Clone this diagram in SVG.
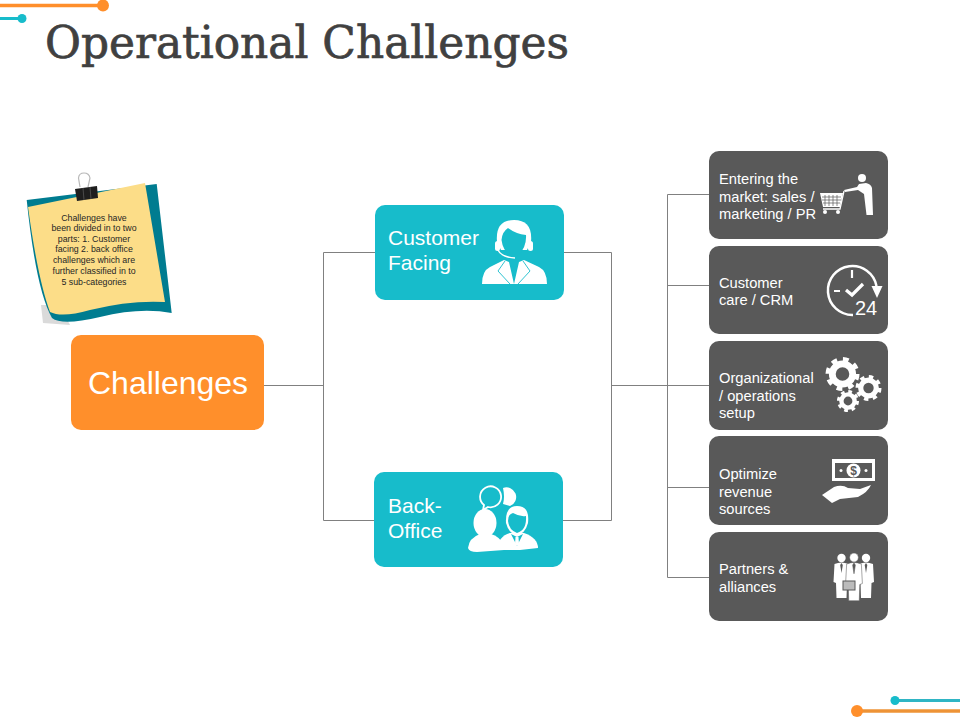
<svg xmlns="http://www.w3.org/2000/svg" xmlns:xlink="http://www.w3.org/1999/xlink" width="960" height="720" viewBox="0 0 960 720">
<style>
text{font-family:"Liberation Sans",Arial,sans-serif}
.conn{fill:none;stroke:#808080;stroke-width:1}
.dark{fill:#595959}.teal{fill:#17BCCB}
.lbl{fill:#fff;font-size:21px}
.sm{fill:#fff;font-size:14.7px}
.note{fill:#262626;font-size:8.8px;text-anchor:middle}
.w{fill:#fff}
.ws{fill:none;stroke:#fff}
</style>
<defs>
<g id="gear"><circle r="0.6" fill="none" stroke="#fff" stroke-width="0.4"/><circle r="0.85" fill="none" stroke="#fff" stroke-width="0.3" stroke-dasharray="0.33 0.3375"/></g>
<g id="man"><circle cy="-18" r="4.200" class="w"/><path class="w" d="M-7-12Q0-15 7-12L8 6 5.500 7 5 22H-5L-5.500 7-8 6Z"/><path d="M0-13-1.300-11 0-3 1.300-11Z" fill="#595959"/></g>
</defs>
<g id="deco">
<path d="M0 5.500H103" stroke="#FF8F2B" stroke-width="3.500" fill="none"/><circle cx="103" cy="5.500" r="6" fill="#FF8F2B"/>
<path d="M0 18.500H22" stroke="#17BCCB" stroke-width="3" fill="none"/><circle cx="22" cy="18.500" r="4.500" fill="#17BCCB"/>
<path d="M895 700.500H960" stroke="#2FB5C4" stroke-width="3" fill="none"/><circle cx="895" cy="700.500" r="4.500" fill="#17BCCB"/>
<path d="M857 711H960" stroke="#EE9336" stroke-width="3.500" fill="none"/><circle cx="857" cy="711" r="6" fill="#FF8F2B"/>
</g>
<text id="title" x="45" y="58" font-size="45" textLength="524" lengthAdjust="spacingAndGlyphs" style="font-family:'DejaVu Serif',serif" fill="#404040" stroke="#404040" stroke-width="0.700">Operational Challenges</text>
<g id="connectors">
<path class="conn" d="M264 385.500H323.500M323.500 252.500V520.500M323.500 252.500H375M323.500 520.500H374M564 252.500H611.500M563 520.500H611.500M611.500 252.500V520.500M611.500 385.500H709M667.500 194.500V577.500M667.500 194.500H709M667.500 285.500H709M667.500 487.500H709M667.500 577.500H709"/>
</g>
<g id="note">
<path d="M41 305 43 323 70 325 60 305Z" fill="#DADADA"/>
<path d="M26.700 200 156.700 184 171.700 313Q140 307 100 317 62 326 52 318 36 290 26.700 200Z" fill="#007C90"/>
<path d="M28 207 145 183 165 302Q130 300 90 310 62 318 50 312 38 280 28 207Z" fill="#FCDD88"/>
<path d="M80 187 78.500 178Q79 173 84 173 89 173 90 178L88 187" fill="none" stroke="#B8B8B8" stroke-width="1.200"/>
<path d="M75 189 97 186 98 198 77 201Z" fill="#1E1E1E"/>
<path d="M83 188 84 200M90 187 91 199" stroke="#555" stroke-width="0.800"/>
<text class="note" x="94" y="221">Challenges have</text>
<text class="note" x="94" y="231">been divided in to two</text>
<text class="note" x="94" y="242">parts: 1. Customer</text>
<text class="note" x="94" y="252">facing 2. back office</text>
<text class="note" x="94" y="263">challenges which are</text>
<text class="note" x="94" y="274">further classified in to</text>
<text class="note" x="94" y="285">5 sub-categories</text>
</g>
<g id="challenges">
<rect x="71" y="335" width="193" height="95" rx="10" fill="#FF8F2B"/>
<text x="88" y="394" font-size="32" fill="#fff">Challenges</text>
</g>
<g id="customer-facing">
<rect x="375" y="205" width="189" height="95" rx="10" class="teal"/>
<text class="lbl" x="388" y="245">Customer</text>
<text class="lbl" x="388" y="270">Facing</text>
<path class="w" d="M497 242Q495 220 514 220 533 220 531 242L527 250H501Z"/>
<path class="teal" d="M501.500 240Q502 232 508 228 516 234 526 235 527 250 514 259 503 252 501.500 240Z"/>
<path class="ws" stroke-width="1.500" d="M498 250Q501 257 515 258"/>
<rect x="495" y="241" width="5" height="10" rx="2.500" class="w"/><rect x="528" y="241" width="5" height="10" rx="2.500" class="w"/>
<path class="w" d="M482 284Q482 271 490 267L504 260 509 262 514 284 519 262 524 260 539 267Q547 271 547 284Z"/>
<path d="M505 261 498 271 510 284M523 261 530 271 518 284" fill="none" stroke="#17BCCB" stroke-width="0.900"/>
</g>
<g id="back-office">
<rect x="374" y="472" width="189" height="95" rx="10" class="teal"/>
<text class="lbl" x="388" y="513">Back-</text>
<text class="lbl" x="388" y="538">Office</text>
<path class="w" d="M503 488A9.500 9.500 0 1 1 510 506L503 504Q505 497 503 488Z"/>
<path stroke="#fff" stroke-width="1.800" d="M488 507A10.500 10.500 0 1 0 484 505L483 510Z" fill="#17BCCB"/>
<ellipse cx="485" cy="523" rx="11.500" ry="14" class="w"/>
<path class="w" d="M468 548Q469 538 480 534H491Q499 536 505 546L504 550 477 552Q469 552 468 548Z"/>
<path class="w" d="M498 550Q497 537 510 533L524 533Q538 538 538 548L520 550Z"/>
<path class="w" d="M506 523Q505 506 517 506 530 506 528 523 525 534 517 535 509 534 506 523Z"/>
<path class="teal" d="M508 521Q508 514 513 513 520 517 526 516 527 530 517 533 509 530 508 521Z"/>
<path class="teal" d="M511 534 517 546 523 534 517 537Z"/><path class="w" d="M515.500 537H518.500L519 544 517 546 515 544Z"/>
</g>
<g id="market">
<rect x="709" y="151" width="179" height="88" rx="10" class="dark"/>
<text class="sm" x="719" y="184">Entering the</text>
<text class="sm" x="719" y="202">market: sales /</text>
<text class="sm" x="719" y="219">marketing / PR</text>
<circle cx="862" cy="178" r="4" class="w"/>
<path class="w" d="M859 184 866 183Q871 184 872 188L873 215H866.500L864 194 858 190 845 192 844 190 857 187Z"/>
<path d="M820 193H843L840 207H823Z" class="w"/>
<path d="M825 195V206M829 195V206M833 195V206M837 195V206M822 197H841M822 200H841M823 203H840" stroke="#595959" stroke-width="0.700"/>
<path class="ws" stroke-width="1.300" d="M844 191 840 209H823"/>
<circle cx="825" cy="212" r="2" class="w"/><circle cx="838" cy="212" r="2" class="w"/>
</g>
<g id="care">
<rect x="709" y="246" width="179" height="88" rx="10" class="dark"/>
<text class="sm" x="719" y="288">Customer</text>
<text class="sm" x="719" y="305">care / CRM</text>
<path class="ws" stroke-width="2.500" d="M853 315A24.500 24.500 0 1 1 876.500 286"/>
<path class="w" d="M871.500 286H882.500L877 298Z"/>
<path class="ws" stroke-width="2.200" d="M852 270V278M834 291H840"/>
<path class="ws" stroke-width="3.200" d="M846 290 852 295 863 284"/>
<text x="855" y="315" font-size="20" style="font-family:'Liberation Sans',sans-serif" fill="#fff" textLength="22">24</text>
</g>
<g id="org">
<rect x="709" y="341" width="179" height="89" rx="10" class="dark"/>
<text class="sm" x="719" y="383">Organizational</text>
<text class="sm" x="719" y="401">/ operations</text>
<text class="sm" x="719" y="418">setup</text>
<use xlink:href="#gear" href="#gear" transform="translate(842.500 374) scale(17)"/>
<use xlink:href="#gear" href="#gear" transform="translate(868.500 388) scale(13)"/>
<use xlink:href="#gear" href="#gear" transform="translate(848 401) scale(11)"/>
</g>
<g id="revenue">
<rect x="709" y="436" width="179" height="89" rx="10" class="dark"/>
<text class="sm" x="719" y="479">Optimize</text>
<text class="sm" x="719" y="497">revenue</text>
<text class="sm" x="719" y="514">sources</text>
<rect x="832" y="459" width="43" height="22" class="w"/>
<rect x="835" y="463" width="37" height="15" class="dark"/>
<circle cx="853.500" cy="470.500" r="7" class="w"/>
<circle cx="841" cy="470.500" r="1.500" class="w"/><circle cx="866" cy="470.500" r="1.500" class="w"/>
<text x="853.500" y="475" font-size="12" font-weight="700" text-anchor="middle" fill="#595959">$</text>
<path class="w" d="M822 495 834 487Q842 484 848 488L860 489 871 485Q868 492 858 497L840 499 832 503Z"/>
</g>
<g id="partners">
<rect x="709" y="532" width="179" height="89" rx="10" class="dark"/>
<text class="sm" x="719" y="574">Partners &amp;</text>
<text class="sm" x="719" y="592">alliances</text>
<use xlink:href="#man" href="#man" transform="translate(841.500 576)"/>
<use xlink:href="#man" href="#man" transform="translate(866 576)"/>
<use xlink:href="#man" href="#man" transform="translate(854 577) scale(1.050 1.080)" stroke="#595959" stroke-width="0.500"/>
<rect x="843" y="581" width="12" height="9" fill="#bbb" stroke="#595959" stroke-width="1"/>
</g>
</svg>
